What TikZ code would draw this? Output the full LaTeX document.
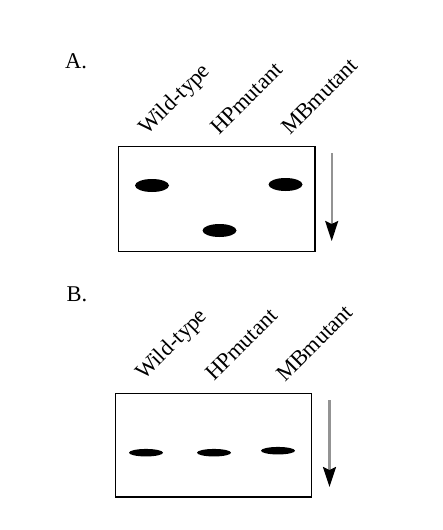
\documentclass[tikz,border=0pt]{standalone}
\usepackage{fontspec}
\setmainfont{Liberation Serif}
\usetikzlibrary{arrows.meta,positioning,shapes.geometric}

\begin{document}
\begin{tikzpicture}[
  x=1pt,y=-1pt,
  gel/.style={draw,line width=1.1pt,inner sep=0pt},
  spot/.style={ellipse,fill=black,inner sep=0pt,minimum width=34pt},
  lane/.style={rotate=45,anchor=base west,inner sep=0pt,
               font=\fontsize{22.5pt}{22.5pt}\selectfont},
  panel/.style={anchor=base west,inner sep=0pt,
                font=\fontsize{22.5pt}{22.5pt}\selectfont},
  run/.style={draw=gray!85,line width=2.2pt,
              -{Stealth[length=20pt,width=13pt,inset=3pt,black]}}
]
\useasboundingbox (0,0) rectangle (442,530);

\node[panel] (titleA) at (65,68) {A.};
\node[gel,minimum width=196.5pt,minimum height=104.5pt] (gelA) at (216.7,199) {};
\node[lane] (wtA) at (147,136) {Wild-type};
\node[lane] (hpA) at (219,136) {HPmutant};
\node[lane] (mbA) at (290,136) {MBmutant};
\node[spot,minimum height=13pt] (wtspotA) at (152,185.5) {};
\node[spot,minimum height=13pt] (hpspotA) at (219.5,230.5) {};
\node[spot,minimum height=13pt] (mbspotA) at (285.5,184.5) {};
\coordinate (startA) at (331.7,153);
\coordinate (endA) at (331.7,241);
\draw[run] (startA) -- (endA);

\node[panel] (titleB) at (66.5,301.5) {B.};
\node[gel,minimum width=196pt,minimum height=103.5pt] (gelB) at (213.7,445.2) {};
\node[lane] (wtB) at (144,381) {Wild-type};
\node[lane] (hpB) at (214,382) {HPmutant};
\node[lane] (mbB) at (285,383) {MBmutant};
\node[spot,minimum height=7.5pt] (wtspotB) at (146,452.7) {};
\node[spot,minimum height=7.5pt] (hpspotB) at (214,452.7) {};
\node[spot,minimum height=7.5pt] (mbspotB) at (278,450.7) {};
\coordinate (startB) at (329.5,400);
\coordinate (endB) at (329.5,487);
\draw[run] (startB) -- (endB);
\end{tikzpicture}
\end{document}
